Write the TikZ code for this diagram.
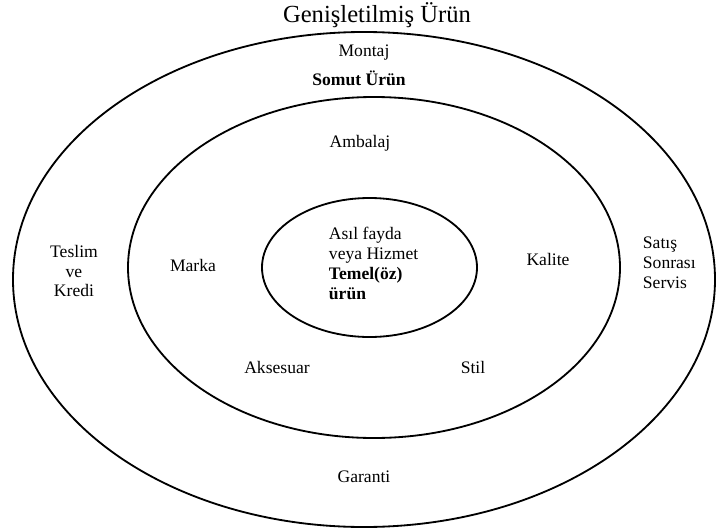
\documentclass[tikz,border=0pt]{standalone}
\usepackage{fontspec}
\setmainfont{Liberation Serif}
\begin{document}
\begin{tikzpicture}[every node/.style={font=\fontsize{12.5}{14.2}\selectfont}]
   \useasboundingbox (0,0) rectangle (17.925,-13.25);
   \draw[line width=1.3pt] (9.1,-6.9875) ellipse (8.775 and 6.1875);
   \draw[line width=1.3pt] (9.35,-6.6875) ellipse (6.15 and 4.2625);
   \draw[line width=1.3pt] (9.2375,-6.6875) ellipse (2.6875 and 1.7375);
   \node[font=\fontsize{17.5}{20}\selectfont] (title) at (9.425,-0.375) {Genişletilmiş Ürün};
   \node (montaj) at (9.1,-1.325) {Montaj};
   \node[font=\fontsize{12.5}{14.2}\selectfont\bfseries] (somut) at (8.975,-1.95) {Somut Ürün};
   \node (ambalaj) at (9.0,-3.575) {Ambalaj};
   \node (marka) at (4.825,-6.625) {Marka};
   \node (kalite) at (13.7,-6.475) {Kalite};
   \node[align=center] (teslim) at (1.85,-6.775) {Teslim\\ve\\Kredi};
   \node[align=left,anchor=west] (satis) at (15.95,-6.575) {Satış\\Sonrası\\Servis};
   \node[align=left,anchor=west] (temel) at (8.1,-6.5875)
   {Asıl fayda\\veya Hizmet\\\textbf{Temel(öz)}\\\textbf{ürün}};
   \node (aksesuar) at (6.925,-9.175) {Aksesuar};
   \node (stil) at (11.825,-9.175) {Stil};
   \node (garanti) at (9.1,-11.925) {Garanti};
 \end{tikzpicture}
\end{document}
